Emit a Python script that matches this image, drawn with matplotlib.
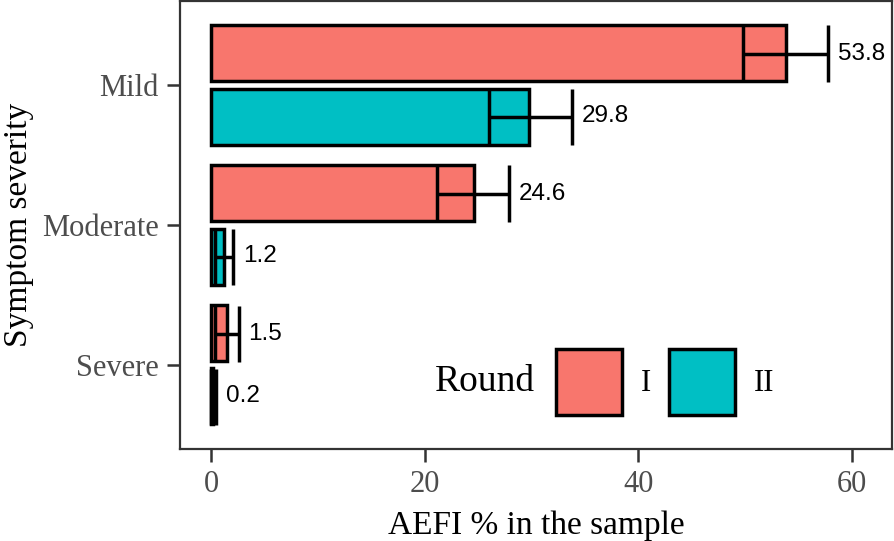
import matplotlib
matplotlib.use("Agg")
import matplotlib.pyplot as plt
from matplotlib.patches import Patch
import numpy as np

# ---- data ----
categories = ["Mild", "Moderate", "Severe"]
rounds = ["I", "II"]
values_I = [53.8, 24.6, 1.5]
values_II = [29.8, 1.2, 0.2]
lower_I = [49.8, 21.2, 0.4]
upper_I = [57.8, 27.9, 2.6]
lower_II = [26.0, 0.4, 0.0]
upper_II = [33.8, 2.1, 0.45]
xticks = [0, 20, 40, 60]

colors = {"I": "#F8766D", "II": "#00BFC4"}

fig = plt.figure(figsize=(8.94, 5.41), dpi=100)
ax = fig.add_axes([180/894, 1-449/541, (892-180)/894, (449-1)/541])

serif = ["Liberation Serif", "DejaVu Serif"]
sans = ["Liberation Sans", "DejaVu Sans"]

cat_pos = np.array([3, 2, 1], dtype=float)
bar_h = 0.4
dodge = 0.225
lw = 2.5

series = [
    ("I", values_I, lower_I, upper_I, cat_pos + dodge),
    ("II", values_II, lower_II, upper_II, cat_pos - dodge),
]

for name, vals, lo, hi, ypos in series:
    ax.barh(ypos, vals, height=bar_h, color=colors[name], edgecolor="black",
            linewidth=lw, zorder=2)
    ax.hlines(ypos, lo, hi, color="black", linewidth=lw, zorder=3)
    ax.vlines(lo, ypos - bar_h/2, ypos + bar_h/2, color="black", linewidth=lw, zorder=3)
    ax.vlines(hi, ypos - bar_h/2, ypos + bar_h/2, color="black", linewidth=lw, zorder=3)
    for v, h, y in zip(vals, hi, ypos):
        ax.annotate(f"{v:.1f}", xy=(h, y), xytext=(7.0, 0), textcoords="offset points",
                    ha="left", va="center", fontsize=17.5, family=sans, color="black")

ax.set_xlim(-2.9, 63.75)
ax.set_ylim(0.4, 3.6)
ax.set_xticks(xticks)
ax.set_xticklabels([str(t) for t in xticks], family=serif, fontsize=22, color="#4D4D4D")
ax.set_yticks(cat_pos)
ax.set_yticklabels(categories, family=serif, fontsize=22, color="#4D4D4D")
ax.tick_params(axis="both", length=9.4, width=1.8, color="#333333")
ax.tick_params(axis="y", pad=6)
ax.tick_params(axis="x", pad=6)
for s in ax.spines.values():
    s.set_color("#333333")
    s.set_linewidth(1.6)

ax.set_xlabel("AEFI % in the sample", family=serif, fontsize=24, color="black", labelpad=8)
ax.set_ylabel("Symptom severity", family=serif, fontsize=24, color="black", labelpad=6)

handles = [Patch(facecolor=colors[r], edgecolor="black", linewidth=lw) for r in rounds]
leg = ax.legend(handles, rounds, ncol=2, loc="center left", frameon=False,
                prop={"family": serif, "size": 22},
                handlelength=2.15, handleheight=2.92, handletextpad=0.62,
                columnspacing=0.6, borderpad=0, borderaxespad=0)
leg.set_bbox_to_anchor((556/894, 1-382/541), transform=fig.transFigure)
fig.text(435/894, 1-382/541, "Round", family=serif, fontsize=27, ha="left", va="center")

fig.savefig("out.png", dpi=100)
